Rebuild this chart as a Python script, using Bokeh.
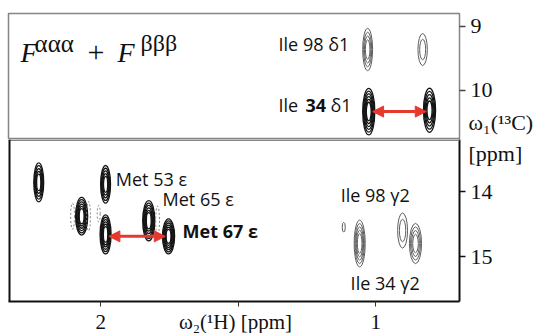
from bokeh.plotting import figure
from bokeh.models import (Range1d, Label, Arrow, NormalHead, Span, FixedTicker,
                          ColumnDataSource, LinearAxis)
from bokeh.layouts import column
from bokeh.embed import file_html
from bokeh.resources import INLINE

# ---------------- data ----------------
# omega2 (1H) axis, ppm (reversed)
x_ticks = [2.0, 1.5, 1.0]
x_tick_text = {2.0: "2", 1.5: "ω₂(¹H)  [ppm]", 1.0: "1"}
x_limits = [2.335, 0.695]

# omega1 (13C) axis, split in two panels (ppm increasing downward)
top_ticks = [9, 10]
top_limits = [8.797, 10.766]
bottom_ticks = [14, 15]
bottom_limits = [13.2, 15.692]
y_title_top = {10.5: "ω₁(¹³C)"}
y_title_bottom = {13.415: "[ppm]"}

# delta1 region peaks (top panel)
top_peak_x = [1.029, 0.829, 1.025, 0.804]
top_peak_y = [9.36, 9.36, 10.33, 10.31]
top_peak_w = [0.036, 0.034, 0.044, 0.044]
top_peak_h = [0.66, 0.50, 0.73, 0.69]
top_peak_levels = [4, 2, 6, 5]
top_peak_kind = ["weak", "weak", "strong", "strong"]

# methyl region peaks (bottom panel)
bot_peak_x = [2.225, 1.982, 2.069, 1.982, 1.825, 1.753, 1.116, 1.058, 0.902, 0.855]
bot_peak_y = [13.86, 13.89, 14.38, 14.66, 14.45, 14.69, 14.55, 14.80, 14.60, 14.80]
bot_peak_w = [0.036, 0.036, 0.044, 0.040, 0.044, 0.044, 0.011, 0.040, 0.036, 0.044]
bot_peak_h = [0.60, 0.58, 0.58, 0.60, 0.62, 0.54, 0.15, 0.72, 0.54, 0.62]
bot_peak_levels = [5, 5, 6, 6, 6, 6, 1, 5, 2, 4]
bot_peak_kind = ["strong"] * 6 + ["weak"] * 4

# small negative (dashed) contours
neg_x = [2.102, 2.044, 2.007, 1.793]
neg_y = [14.38, 14.38, 14.34, 14.45]
neg_w = [0.014, 0.014, 0.011, 0.014]
neg_h = [0.40, 0.45, 0.25, 0.45]

# ---------------- styles ----------------
RED = "#e5392e"
SANS = "Open Sans"
SERIF = "Liberation Serif"


def draw_peaks(p, xs, ys, ws, hs, levels, kinds):
    for x, y, w, h, n, k in zip(xs, ys, ws, hs, levels, kinds):
        color = "#141414" if k == "strong" else "#5e5e5e"
        lw = 1.3 if k == "strong" else 1.0
        f = [1 - i * 0.72 / max(n, 1) for i in range(n)]
        src = ColumnDataSource(dict(x=[x] * n, y=[y] * n,
                                    w=[w * v for v in f], h=[h * v for v in f]))
        p.ellipse(x="x", y="y", width="w", height="h", source=src,
                  fill_color=None, line_color=color, line_width=lw)


def style_right_axis(p, ticks, color):
    ax = p.yaxis[0]
    ax.ticker = FixedTicker(ticks=ticks)
    ax.minor_tick_line_color = None
    ax.major_tick_in = 0
    ax.major_tick_out = 6
    ax.major_tick_line_color = color
    ax.major_tick_line_width = 1.3
    ax.major_label_standoff = 5
    ax.major_label_text_font = SERIF
    ax.major_label_text_font_size = "22px"
    ax.major_label_text_color = "#111111"


def add_title_axis(p, overrides):
    ax = LinearAxis(ticker=FixedTicker(ticks=list(overrides.keys())),
                    major_label_overrides=overrides)
    ax.axis_line_color = None
    ax.major_tick_line_color = None
    ax.minor_tick_line_color = None
    ax.major_tick_in = 0
    ax.major_tick_out = 0
    ax.major_label_standoff = -27
    ax.major_label_text_font = SERIF
    ax.major_label_text_font_size = "22px"
    ax.major_label_text_color = "#111111"
    p.add_layout(ax, "right")


def add_text(p, x, y, text, size="18px", font=SANS, style="normal", dx=0,
             align="left", baseline="middle"):
    p.add_layout(Label(x=x, y=y, text=text, x_offset=dx, text_font=font,
                       text_font_size=size, text_font_style=style,
                       text_align=align, text_baseline=baseline,
                       text_color="#111111"))


xr = Range1d(*x_limits)

# ---------------- top panel ----------------
top = figure(output_backend="svg", toolbar_location=None,
             x_range=xr, y_range=Range1d(top_limits[1], top_limits[0]),
             frame_width=451, frame_height=126,
             x_axis_location=None, y_axis_location="right",
             min_border_left=8, min_border_top=13, min_border_bottom=0,
             min_border_right=80)
top.grid.visible = False
top.outline_line_color = "#858585"
top.outline_line_width = 1.5
style_right_axis(top, top_ticks, "#444444")
top.yaxis.axis_line_color = None
add_title_axis(top, y_title_top)

draw_peaks(top, top_peak_x, top_peak_y, top_peak_w, top_peak_h,
           top_peak_levels, top_peak_kind)

top.add_layout(Arrow(start=NormalHead(size=11, fill_color=RED, line_color=RED),
                     end=NormalHead(size=11, fill_color=RED, line_color=RED),
                     x_start=top_peak_x[2] - 0.014, y_start=top_peak_y[2],
                     x_end=top_peak_x[3] + 0.012, y_end=top_peak_y[2],
                     line_color=RED, line_width=3))

# title F^aaa + F^bbb
tx, ty = 2.291, 9.40
add_text(top, tx, ty, "F", size="28px", font=SERIF, style="italic", baseline="alphabetic")
add_text(top, tx, ty - 0.14, "ααα", size="25px", font=SERIF, dx=14, baseline="alphabetic")
add_text(top, tx, ty, "+", size="30px", font=SERIF, dx=67, baseline="alphabetic")
add_text(top, tx, ty, "F", size="28px", font=SERIF, style="italic", dx=97, baseline="alphabetic")
add_text(top, tx, ty - 0.14, "βββ", size="24px", font=SERIF, dx=120, baseline="alphabetic")

add_text(top, 1.353, 9.27, "Ile 98 δ1")
add_text(top, 1.353, 10.23, "Ile")
add_text(top, 1.353, 10.23, "34", style="bold", dx=27)
add_text(top, 1.353, 10.23, "δ1", dx=52)

# ---------------- bottom panel ----------------
bot = figure(output_backend="svg", toolbar_location=None,
             x_range=xr, y_range=Range1d(bottom_limits[1], bottom_limits[0]),
             frame_width=451, frame_height=162,
             x_axis_location="below", y_axis_location="right",
             min_border_left=8, min_border_top=0, min_border_bottom=0,
             min_border_right=80)
bot.grid.visible = False
bot.outline_line_color = None
style_right_axis(bot, bottom_ticks, "#111111")
bot.yaxis[0].axis_line_color = "#111111"
bot.yaxis[0].axis_line_width = 2
add_title_axis(bot, y_title_bottom)

xa = bot.xaxis[0]
xa.ticker = FixedTicker(ticks=x_ticks)
xa.major_label_overrides = x_tick_text
xa.minor_tick_line_color = None
xa.major_tick_in = 0
xa.major_tick_out = 5
xa.major_tick_line_color = "#333333"
xa.axis_line_color = "#111111"
xa.axis_line_width = 2
xa.major_label_standoff = 3
xa.major_label_text_font = SERIF
xa.major_label_text_font_size = "21px"
xa.major_label_text_color = "#111111"

bot.add_layout(Span(location=bottom_limits[0], dimension="width",
                    line_color="#858585", line_width=3))
bot.add_layout(Span(location=x_limits[0], dimension="height",
                    line_color="#111111", line_width=4))

draw_peaks(bot, bot_peak_x, bot_peak_y, bot_peak_w, bot_peak_h,
           bot_peak_levels, bot_peak_kind)
bot.ellipse(x=neg_x, y=neg_y, width=neg_w, height=neg_h, fill_color=None,
            line_color="#808080", line_width=1, line_dash="2 2")

bot.add_layout(Arrow(start=NormalHead(size=11, fill_color=RED, line_color=RED),
                     end=NormalHead(size=11, fill_color=RED, line_color=RED),
                     x_start=bot_peak_x[3] - 0.012, y_start=bot_peak_y[5],
                     x_end=bot_peak_x[5] + 0.012, y_end=bot_peak_y[5],
                     line_color=RED, line_width=3))

add_text(bot, 1.945, 13.815, "Met 53 ε")
add_text(bot, 1.775, 14.11, "Met 65 ε")
add_text(bot, 1.702, 14.60, "Met 67 ε", style="bold")
add_text(bot, 1.127, 14.06, "Ile 98 γ2")
add_text(bot, 1.091, 15.415, "Ile 34 γ2")

layout = column(top, bot, spacing=0)
open("out.html", "w").write(file_html(layout, INLINE))
